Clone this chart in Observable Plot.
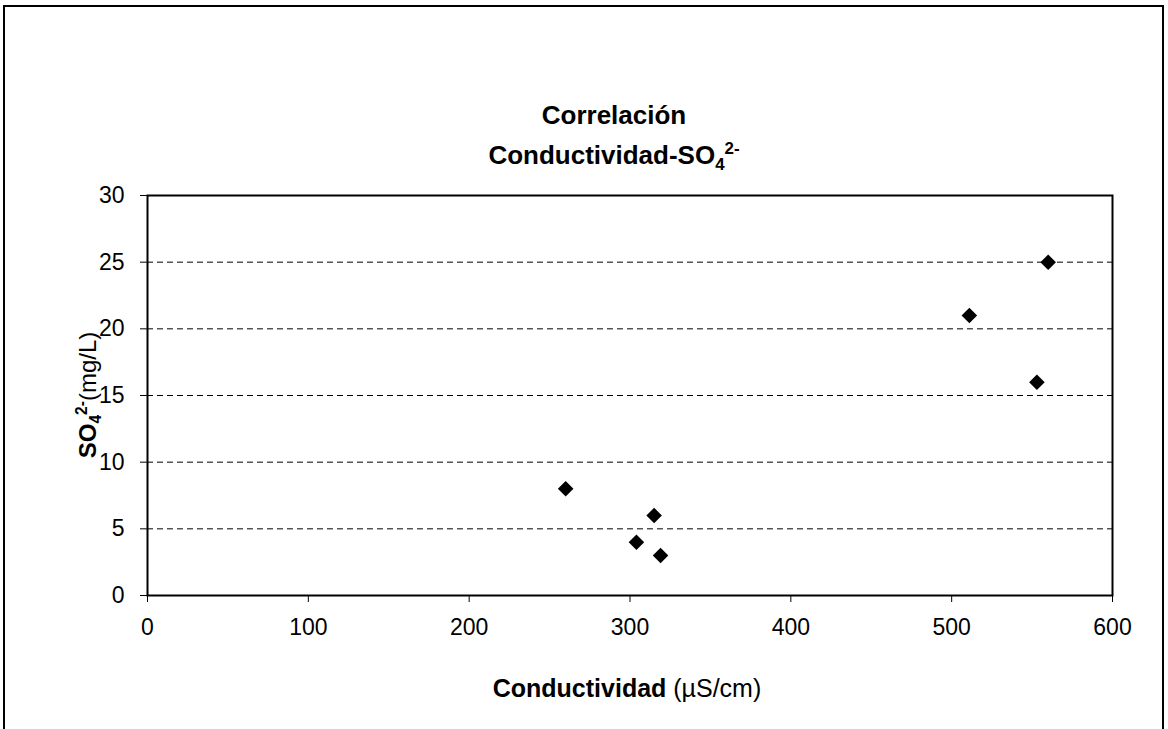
<!DOCTYPE html>
<html>
<head>
<meta charset="utf-8">
<script src="https://cdn.jsdelivr.net/npm/d3@7"></script>
<script src="https://cdn.jsdelivr.net/npm/@observablehq/plot@0.6"></script>
<style>
  html, body { margin: 0; padding: 0; background: #fff; }
  #wrap { position: relative; width: 1168px; height: 729px; font-family: "Liberation Sans", Arial, sans-serif; color: #000; }
  #border { position: absolute; left: 3px; top: 5px; width: 1161px; height: 730px; border-left: 2px solid #000; border-top: 2px solid #000; border-right: 2px solid #000; box-sizing: border-box; }
  .title { position: absolute; left: 0; width: 1168px; text-align: center; font-weight: bold; font-size: 26px; padding-left: 60px; box-sizing: border-box; }
  #ylabwrap { position: absolute; left: 89px; top: 395px; width: 0; height: 0; }
  #ylab { position: absolute; left: 0; top: 0; transform: translate(-50%, -50%) rotate(-90deg); white-space: nowrap; font-size: 24px; }
  #xlab { position: absolute; left: 0; width: 1168px; top: 674px; text-align: center; font-size: 25px; padding-left: 86px; box-sizing: border-box; }
  sub, sup { font-size: 65%; }
  #chart { position: absolute; left: 0; top: 0; }
</style>
</head>
<body>
<div id="wrap">
  <div id="chart"></div>
  <div id="border"></div>
  <div class="title" style="top:100px">Correlación</div>
  <div class="title" style="top:139px">Conductividad-SO<sub>4</sub><sup>2-</sup></div>
  <div id="ylabwrap"><div id="ylab"><b>SO<sub>4</sub><sup>2-</sup></b>(mg/L)</div></div>
  <div id="xlab"><b>Conductividad</b> (µS/cm)</div>
</div>
<script>
const conductividad = [260, 304, 315, 319, 511, 553, 560];
const sulfato = [8, 4, 6, 3, 21, 16, 25];
const xTicks = [0, 100, 200, 300, 400, 500, 600];
const yTicks = [0, 5, 10, 15, 20, 25, 30];
const gridLines = [5, 10, 15, 20, 25];

const data = conductividad.map((c, i) => ({c, s: sulfato[i]}));

const chart = Plot.plot({
  width: 1168,
  height: 729,
  marginLeft: 147,
  marginRight: 56,
  marginTop: 195,
  marginBottom: 134,
  style: { fontFamily: "'Liberation Sans', Arial, sans-serif", fontSize: "23px", color: "#000", background: "transparent" },
  x: { domain: [0, 600], ticks: xTicks, tickSize: 7, tickPadding: 16, label: null },
  y: { domain: [0, 30], ticks: yTicks, tickSize: 7, tickPadding: 16, label: null },
  marks: [
    Plot.ruleY(gridLines, { stroke: "#000", strokeWidth: 1, strokeDasharray: "6,4" }),
    Plot.frame({ stroke: "#000", strokeWidth: 2 }),
    Plot.dot(data, { x: "c", y: "s", symbol: "diamond2", r: 7, fill: "#000", stroke: "none" })
  ]
});
document.getElementById("chart").appendChild(chart);
</script>
</body>
</html>
